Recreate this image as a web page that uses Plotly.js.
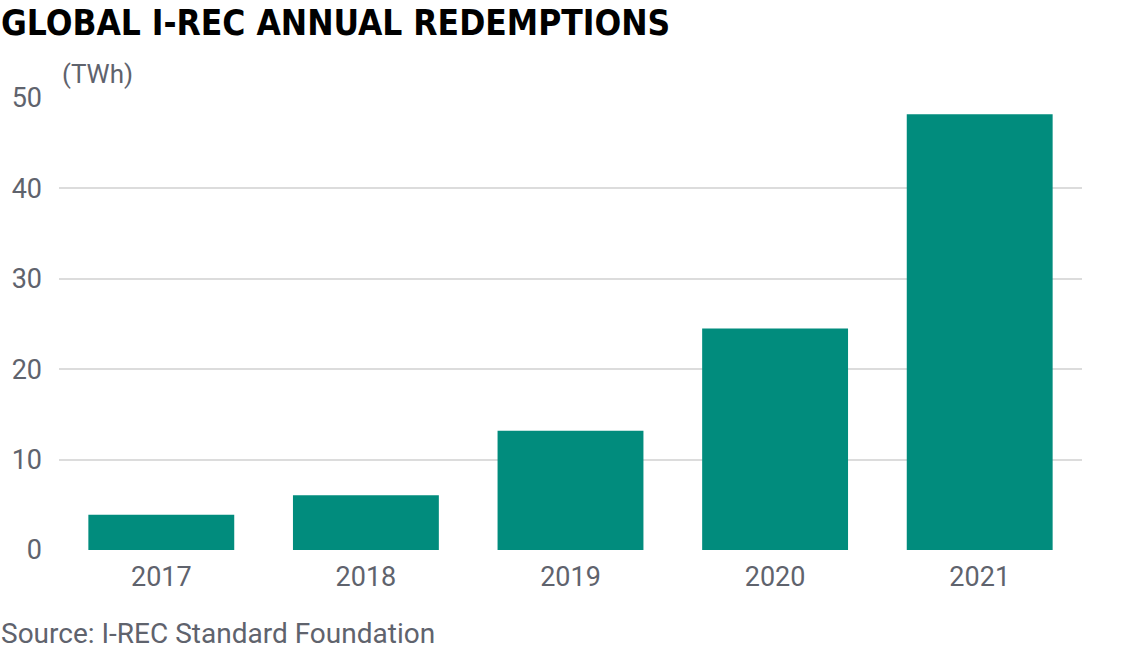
<!DOCTYPE html>
<html>
<head>
<meta charset="utf-8">
<script src="https://cdn.plot.ly/plotly-3.0.1.min.js"></script>
<style>html,body{margin:0;padding:0;background:#fff;}#chart{width:1122px;height:650px;}</style>
</head>
<body>
<div id="chart"></div>
<script>
const years = ['2017', '2018', '2019', '2020', '2021'];
const redemptions = [3.9, 6.05, 13.2, 24.5, 48.2];
const yTicks = [0, 10, 20, 30, 40, 50];

const gray = '#5f636d';
const L = 59, R = 1122 - 1082, T = 98, B = 650 - 550;
const W = 1122 - L - R, H = 650 - T - B;
const px = p => (p - L) / W;
const py = p => (650 - B - p) / H;

const data = [{
  type: 'bar',
  x: years,
  y: redemptions,
  marker: {color: '#018c7d', line: {width: 0}},
  hoverinfo: 'x+y'
}];

const layout = {
  width: 1122, height: 650,
  margin: {l: L, r: R, t: T, b: B, pad: 0},
  paper_bgcolor: '#fff', plot_bgcolor: '#fff',
  bargap: 0.287,
  showlegend: false,
  font: {family: 'Roboto, sans-serif', color: gray},
  xaxis: {
    type: 'category',
    tickvals: years, ticktext: years,
    showgrid: false, zeroline: false, showline: false,
    ticks: '', tickfont: {size: 27, color: gray},
    ticklabelstandoff: 8
  },
  yaxis: {
    range: [0, 50], tickvals: yTicks,
    showgrid: true, gridcolor: '#dcdcdc', gridwidth: 2,
    zeroline: false, showline: false, ticks: '',
    tickfont: {size: 27, color: gray},
    ticklabelstandoff: 16
  },
  annotations: [
    {text: '<b>GLOBAL I-REC ANNUAL REDEMPTIONS</b>', xref: 'paper', yref: 'paper',
     x: px(-1), y: py(23), xanchor: 'left', yanchor: 'middle', showarrow: false,
     font: {family: '"DejaVu Sans Condensed", "Liberation Sans Narrow", sans-serif', size: 35, color: '#000'}},
    {text: '(TWh)', xref: 'paper', yref: 'paper',
     x: px(60), y: py(74), xanchor: 'left', yanchor: 'middle', showarrow: false,
     font: {size: 26, color: gray}},
    {text: 'Source: I-REC Standard Foundation', xref: 'paper', yref: 'paper',
     x: px(-1), y: py(633), xanchor: 'left', yanchor: 'middle', showarrow: false,
     font: {size: 28, color: gray}}
  ]
};

Plotly.newPlot('chart', data, layout, {displayModeBar: false, staticPlot: true});
</script>
</body>
</html>
